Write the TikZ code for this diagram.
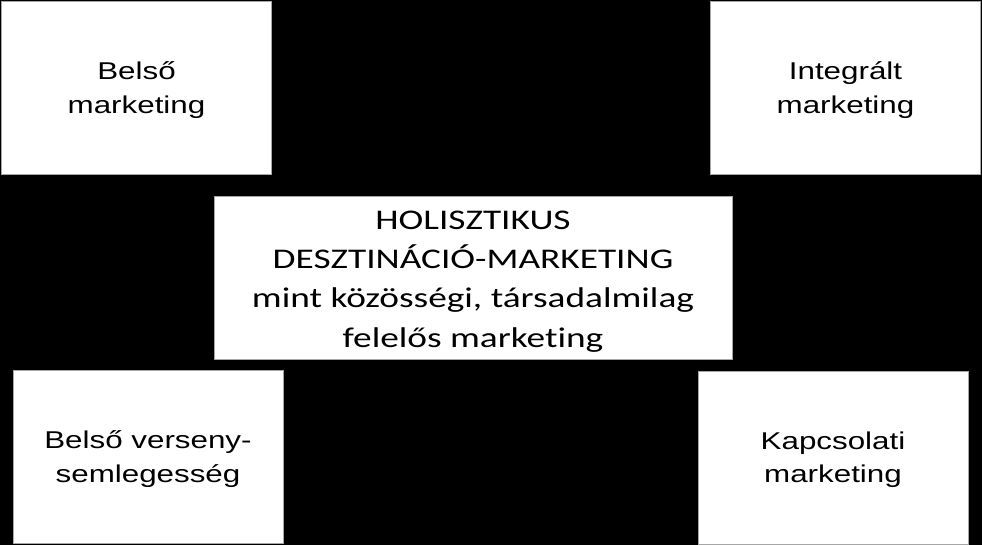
\documentclass[tikz,border=0pt]{standalone}
\usepackage{fontspec}
\setmainfont{Liberation Sans}[FakeStretch=1.29]
\newfontfamily\calibrifont{Carlito}[FakeStretch=1.31,Ligatures=NoCommon]
\usepackage{tikz}

\begin{document}
\begin{tikzpicture}[x=1pt,y=-1pt,
		box/.style={rectangle,draw=gray!70,line width=0.8pt,fill=white,inner sep=0pt},
		corner box/.style={box,minimum width=270pt,minimum height=173pt},
		center box/.style={box,minimum width=518pt,minimum height=163pt},
		corner text/.style={align=center,inner sep=0pt,font=\fontsize{24.3}{33.2}\selectfont},
		center text/.style={align=center,inner sep=0pt,font=\calibrifont\fontsize{28.5}{39.3}\selectfont}]
		\fill[black] (0,0) rectangle (982,545);
		\useasboundingbox (0,0) rectangle (982,545);
		\node[corner box] (belso) at (136.5,87.5) {};
		\node[corner box] (integralt) at (845.5,87.5) {};
		\node[center box] (holisztikus) at (473,277.5) {};
		\node[corner box] (verseny) at (148,457) {};
		\node[corner box] (kapcsolati) at (833,457.5) {};
		\node[corner text] (belso text) at ([yshift=-2.5pt]belso) {Belső\\marketing};
		\node[corner text] (integralt text) at ([yshift=-2.5pt]integralt) {Integrált\\marketing};
		\node[center text] (holisztikus text) at ([yshift=-4pt]holisztikus) {HOLISZTIKUS\\DESZTINÁCIÓ-MARKETING\\mint közösségi, társadalmilag\\felelős marketing};
		\node[corner text] (verseny text) at ([yshift=-2pt]verseny) {Belső verseny-\\semlegesség};
		\node[corner text] (kapcsolati text) at ([yshift=-2pt]kapcsolati) {Kapcsolati\\marketing};
		\end{tikzpicture}
\end{document}
